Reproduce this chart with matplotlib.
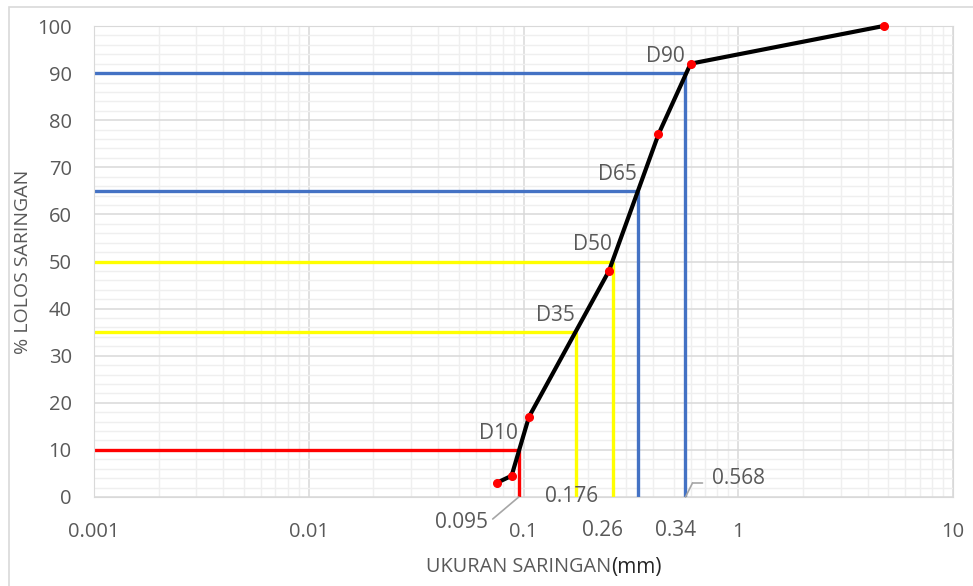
import numpy as np
import matplotlib
matplotlib.use("Agg")
import matplotlib.pyplot as plt
from matplotlib.ticker import FixedLocator, NullFormatter
from matplotlib.patches import Rectangle
from matplotlib.transforms import offset_copy

# sieve analysis: grain size (mm) vs percent passing
ukuran = [0.075, 0.088, 0.106, 0.25, 0.425, 0.6, 4.75]
lolos = [3, 4.5, 17, 48, 77, 92, 100]

# characteristic diameters
d_names = ["D10", "D35", "D50", "D65", "D90"]
d_levels = [10, 35, 50, 65, 90]
d_sizes = [0.095, 0.176, 0.26, 0.34, 0.568]
d_colors = ["#FF0000", "#FFFF00", "#FFFF00", "#4472C4", "#4472C4"]

x_ticks = [0.001, 0.01, 0.1, 1, 10]
x_ticklabels = ["0.001", "0.01", "0.1", "1", "10"]

GRAY = "#595959"
LEAD = "#A6A6A6"
plt.rcParams["font.family"] = ["Open Sans", "DejaVu Sans"]

fig = plt.figure(figsize=(9.73, 5.86), dpi=100)
ax = fig.add_axes([94 / 973, 1 - 497 / 586, (953 - 94) / 973, (497 - 26) / 586])

# outer chart frame
fig.patches.append(Rectangle((9 / 973, -0.1), 1.1, 1 - 7 / 586 + 0.1,
                             transform=fig.transFigure, fill=False,
                             edgecolor="#D9D9D9", lw=1.2))

ax.set_xscale("log")
ax.set_xlim(0.001, 10)
ax.set_ylim(0, 100)

# gridlines
ax.xaxis.set_major_locator(FixedLocator(x_ticks))
ax.set_xticklabels(x_ticklabels)
minor_x = [m * 10.0 ** e for e in range(-3, 1) for m in range(2, 10)]
ax.xaxis.set_minor_locator(FixedLocator(minor_x))
ax.xaxis.set_minor_formatter(NullFormatter())
ax.set_yticks(np.arange(0, 101, 10))
ax.set_yticks(np.arange(0, 101, 2), minor=True)
ax.grid(which="major", color="#D9D9D9", lw=1.1, zorder=0)
ax.grid(which="minor", color="#EFEFEF", lw=1.0, zorder=0)
ax.set_axisbelow(True)
for s in ax.spines.values():
    s.set_color("#D9D9D9")
ax.tick_params(which="both", length=0)
ax.tick_params(axis="x", pad=18, labelsize=14.5, labelcolor=GRAY)
ax.tick_params(axis="y", pad=16, labelsize=14.5, labelcolor=GRAY)

# D-lines: horizontal from the left edge, vertical down to the axis
for name, lvl, size, col in zip(d_names, d_levels, d_sizes, d_colors):
    ax.plot([0.001, size], [lvl, lvl], color=col, lw=2.4, zorder=2,
            solid_capstyle="butt")
    ax.plot([size, size], [0, lvl], color=col, lw=2.4, zorder=2,
            solid_capstyle="butt")
    ax.annotate(name, xy=(size, lvl), xytext=(-1, 6), textcoords="offset pixels",
                ha="right", va="bottom", fontsize=15, color=GRAY, zorder=5)

# gradation curve
ax.plot(ukuran, lolos, color="black", lw=3, zorder=3, clip_on=False)
ax.plot(ukuran, lolos, ls="none", marker="o", ms=5.5, color="#FF0000",
        zorder=4, clip_on=False)

# size labels for the D values
lead = dict(arrowstyle="-", color=LEAD, lw=1.2, shrinkA=0, shrinkB=0)
lbl = dict(textcoords="offset pixels", ha="center", va="center",
           fontsize=15, color=GRAY, annotation_clip=False)
ax.annotate("0.095", xy=(d_sizes[0], 0), xytext=(-57, -25), **lbl)
ax.annotate("", xy=(d_sizes[0], 0), xytext=(-26, -22),
            textcoords="offset pixels", arrowprops=lead, annotation_clip=False)
ax.annotate("0.176", xy=(d_sizes[1], 0), xytext=(-5, 1), **lbl)
ax.annotate("0.26", xy=(d_sizes[2], 0), xytext=(-10, -33), **lbl)
ax.annotate("0.34", xy=(d_sizes[3], 0), xytext=(38, -33), **lbl)
ax.annotate("0.568", xy=(d_sizes[4], 0), xytext=(53, 18), **lbl)
ax.annotate("", xy=(d_sizes[4], 0), xytext=(7, 14),
            textcoords="offset pixels", arrowprops=lead, annotation_clip=False)
ax.annotate("", xy=(d_sizes[4], 0),
            xycoords=offset_copy(ax.transData, fig=fig, x=7, y=14, units="dots"),
            xytext=(10, 0), textcoords="offset pixels", arrowprops=lead,
            annotation_clip=False)

ax.set_ylabel("% LOLOS SARINGAN", fontsize=14, color=GRAY)
ax.yaxis.set_label_coords(-(94 - 32) / (953 - 94), 0.5)
fig.text(611 / 973, 1 - 567 / 586, "UKURAN SARINGAN", ha="right", va="center",
         fontsize=14.3, color=GRAY)
fig.text(611 / 973, 1 - 568 / 586, "(mm)", ha="left", va="center",
         fontsize=15, color="#262626")

fig.savefig("out.png", dpi=100)
